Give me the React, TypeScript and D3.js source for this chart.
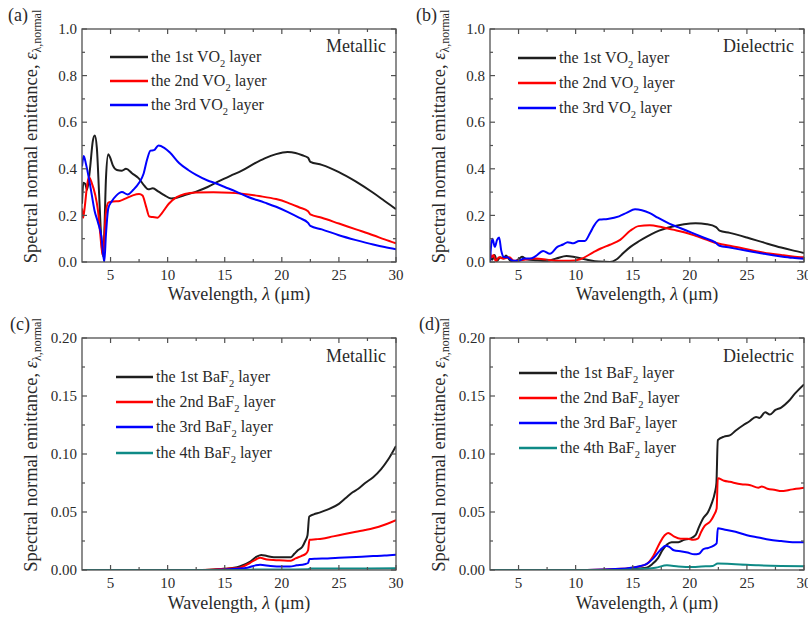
import React from "react";
import * as d3 from "d3";

type Pt = [number, number];

// ---------- Data ----------
const xTicks = [5, 10, 15, 20, 25, 30];
const xMinorTicks = [7.5, 12.5, 17.5, 22.5, 27.5];
const yTicksVO2 = [0, 0.2, 0.4, 0.6, 0.8, 1.0];
const yMinorVO2 = [0.1, 0.3, 0.5, 0.7, 0.9];
const yTicksBaF2 = [0, 0.05, 0.1, 0.15, 0.2];
const yMinorBaF2 = [0.025, 0.075, 0.125, 0.175];

const vo2Labels = ["the 1st VO", "the 2nd VO", "the 3rd VO"];
const baf2Labels = ["the 1st BaF", "the 2nd BaF", "the 3rd BaF", "the 4th BaF"];

const aBlack: Pt[] = [[2.5,0.25],[2.62,0.34],[2.78,0.335],[2.95,0.31],[3.2,0.40],[3.45,0.52],[3.62,0.543],[3.8,0.49],[4.0,0.29],[4.2,0.09],[4.33,0.025],[4.45,0.12],[4.6,0.36],[4.8,0.462],[4.95,0.45],[5.2,0.415],[5.55,0.395],[6.0,0.392],[6.35,0.40],[6.9,0.38],[7.45,0.36],[8.0,0.325],[8.3,0.312],[8.7,0.316],[9.2,0.302],[9.7,0.287],[10.3,0.273],[10.8,0.276],[11.5,0.287],[12.5,0.302],[13.5,0.322],[14.5,0.347],[15.5,0.37],[16.5,0.392],[17.5,0.42],[18.5,0.445],[19.5,0.463],[20.5,0.472],[21.2,0.468],[21.8,0.458],[22.3,0.447],[22.5,0.43],[23.5,0.417],[25,0.386],[26.5,0.345],[28,0.297],[29,0.262],[30,0.227]];
const aRed: Pt[] = [[2.5,0.23],[2.6,0.19],[2.75,0.24],[2.95,0.33],[3.1,0.365],[3.35,0.34],[3.65,0.29],[3.9,0.22],[4.1,0.12],[4.3,0.03],[4.42,0.07],[4.57,0.2],[4.8,0.255],[5.2,0.26],[5.8,0.262],[6.3,0.272],[6.9,0.285],[7.5,0.292],[7.8,0.285],[8.1,0.24],[8.4,0.195],[8.7,0.193],[9.1,0.19],[9.5,0.21],[10.1,0.25],[10.8,0.278],[11.5,0.292],[12.5,0.298],[14,0.299],[15.5,0.297],[16.5,0.293],[18,0.283],[19.5,0.27],[20.5,0.255],[21.5,0.235],[22.3,0.218],[22.5,0.204],[23.5,0.19],[25,0.165],[26.5,0.14],[28,0.115],[29,0.097],[30,0.08]];
const aBlue: Pt[] = [[2.5,0.41],[2.65,0.455],[2.85,0.42],[3.1,0.36],[3.35,0.29],[3.6,0.22],[3.9,0.17],[4.2,0.11],[4.45,0.0],[4.6,0.12],[4.8,0.23],[5.1,0.26],[5.5,0.285],[6.0,0.30],[6.5,0.29],[7.0,0.31],[7.5,0.34],[7.9,0.38],[8.2,0.44],[8.5,0.478],[8.8,0.48],[9.2,0.50],[9.7,0.49],[10.2,0.47],[11,0.425],[11.8,0.395],[12.5,0.374],[13.5,0.35],[14.2,0.338],[15,0.322],[16,0.302],[17,0.28],[18.5,0.255],[19.5,0.237],[20.5,0.215],[21.5,0.19],[22.3,0.168],[22.5,0.155],[23.5,0.14],[25,0.115],[26.5,0.094],[28,0.075],[29,0.064],[30,0.055]];

const bBlack: Pt[] = [[2.5,0.02],[2.7,0.01],[2.9,0.03],[3.1,0.005],[3.4,0.02],[3.7,0.015],[3.9,0.028],[4.2,0.01],[4.6,0.0],[5.0,0.012],[5.3,0.022],[5.7,0.012],[6.5,0.008],[7.5,0.005],[8.3,0.015],[9.2,0.026],[10,0.02],[11,0.01],[12,0.002],[13,0.0],[13.6,0.012],[14.2,0.04],[14.8,0.065],[15.5,0.088],[16.2,0.108],[17,0.128],[18.5,0.152],[19.5,0.162],[20.5,0.166],[21.5,0.162],[22.3,0.15],[22.6,0.135],[23.5,0.125],[25,0.105],[26.5,0.083],[28,0.062],[29,0.05],[30,0.039]];
const bRed: Pt[] = [[2.5,0.04],[2.65,0.02],[2.8,0.03],[3.0,0.005],[3.3,0.02],[3.6,0.015],[4.2,0.02],[4.6,0.005],[5.5,0.01],[6.5,0.015],[7.5,0.01],[8.5,0.005],[9.5,0.005],[10.4,0.012],[11.5,0.04],[12.2,0.058],[13,0.074],[13.9,0.095],[14.8,0.135],[15.5,0.154],[16.5,0.158],[17.5,0.15],[18.5,0.139],[19.5,0.128],[20.5,0.112],[21.5,0.095],[22.5,0.079],[23.5,0.07],[25,0.055],[26.5,0.04],[28,0.03],[29,0.024],[30,0.02]];
const bBlue: Pt[] = [[2.5,0.0],[2.58,0.06],[2.72,0.1],[2.92,0.065],[3.12,0.095],[3.3,0.105],[3.48,0.05],[3.75,0.02],[4.0,0.02],[4.5,0.005],[5.0,0.005],[5.5,0.015],[6.0,0.015],[6.5,0.025],[7.15,0.047],[7.75,0.035],[8.4,0.065],[8.9,0.075],[9.3,0.085],[9.8,0.08],[10.3,0.09],[10.8,0.09],[11.3,0.128],[11.6,0.155],[12.1,0.182],[12.8,0.185],[13.8,0.196],[14.5,0.212],[15.2,0.226],[15.8,0.222],[16.5,0.21],[17.2,0.19],[18.2,0.165],[19.2,0.145],[20.2,0.125],[21.3,0.103],[22.2,0.085],[22.6,0.07],[23.5,0.062],[25,0.048],[26.5,0.035],[28,0.024],[29,0.018],[30,0.014]];

const cBlack: Pt[] = [[2.5,0],[13,0],[14,0.0005],[15,0.001],[16.3,0.003],[17.2,0.007],[17.8,0.0115],[18.2,0.013],[18.7,0.012],[19.3,0.011],[20.3,0.011],[20.8,0.011],[21.1,0.014],[21.4,0.017],[21.8,0.02],[22.05,0.025],[22.25,0.03],[22.4,0.046],[22.8,0.048],[23.3,0.0495],[24,0.052],[25,0.057],[25.6,0.062],[26.2,0.067],[26.7,0.07],[27.3,0.075],[28,0.08],[28.7,0.087],[29.3,0.095],[30,0.107]];
const cRed: Pt[] = [[2.5,0],[13,0],[15,0.001],[16.3,0.002],[17.2,0.006],[17.8,0.0095],[18.1,0.0105],[18.7,0.009],[19.5,0.0085],[20.5,0.008],[20.8,0.008],[21.2,0.01],[21.7,0.012],[22.1,0.014],[22.3,0.017],[22.42,0.026],[23,0.0265],[23.5,0.027],[24.5,0.029],[25.5,0.031],[26.5,0.033],[27.3,0.0345],[28,0.036],[29,0.039],[30,0.043]];
const cBlue: Pt[] = [[2.5,0],[14,0],[16,0.001],[17,0.002],[17.7,0.004],[18.1,0.0045],[19,0.0035],[20,0.003],[20.7,0.003],[21.3,0.004],[22,0.005],[22.3,0.006],[22.42,0.0095],[23,0.0098],[24,0.01],[25,0.0105],[26,0.011],[27,0.0115],[28,0.012],[29,0.0125],[30,0.0132]];
const cTeal: Pt[] = [[2.5,0],[16,0],[18,0.0005],[20,0.0004],[22.3,0.0007],[22.45,0.0012],[25,0.0013],[30,0.0015]];

const dBlack: Pt[] = [[2.5,0],[12,0],[14,0.0005],[15,0.001],[16.2,0.002],[16.7,0.005],[17.2,0.01],[17.6,0.017],[18,0.022],[18.4,0.024],[19,0.024],[19.5,0.026],[20,0.027],[20.5,0.03],[20.8,0.037],[21.2,0.045],[21.6,0.05],[21.9,0.057],[22.2,0.067],[22.33,0.075],[22.45,0.112],[23,0.115],[23.5,0.116],[24,0.12],[24.7,0.125],[25.2,0.128],[25.8,0.132],[26.1,0.131],[26.6,0.136],[27,0.134],[27.5,0.138],[28,0.14],[28.6,0.145],[29.2,0.152],[30,0.16]];
const dRed: Pt[] = [[2.5,0],[11,0],[14,0.001],[15,0.002],[16.2,0.005],[16.8,0.012],[17.3,0.022],[17.8,0.03],[18.1,0.032],[18.6,0.029],[19.2,0.027],[19.8,0.027],[20.3,0.026],[20.7,0.027],[21,0.033],[21.3,0.038],[21.8,0.042],[22.1,0.047],[22.35,0.053],[22.45,0.079],[23,0.077],[23.5,0.076],[24.5,0.074],[25.3,0.073],[26,0.071],[26.3,0.072],[26.8,0.07],[27.5,0.069],[28,0.068],[28.7,0.069],[29.3,0.07],[30,0.071]];
const dBlue: Pt[] = [[2.5,0],[11,0],[14,0.001],[15.5,0.003],[16.2,0.005],[16.8,0.01],[17.4,0.017],[17.9,0.021],[18.2,0.02],[18.6,0.017],[19.3,0.016],[19.8,0.015],[20.4,0.0135],[20.8,0.014],[21.2,0.018],[21.6,0.019],[22.1,0.021],[22.35,0.023],[22.45,0.036],[23,0.035],[24,0.033],[25,0.03],[26,0.028],[27,0.026],[28,0.025],[29,0.024],[30,0.024]];
const dTeal: Pt[] = [[2.5,0],[14,0],[16,0.001],[17,0.002],[18,0.004],[19,0.003],[20.3,0.0025],[21,0.003],[22,0.0035],[22.45,0.0055],[24,0.005],[26,0.004],[28,0.0035],[30,0.0033]];

// ---------- Styling ----------
const FONT = '"Liberation Serif", "DejaVu Serif", serif';
const AX = "#505050";
const TXT = "#2a2a2a";
const COLORS = ["#1e1e1e", "#ff0000", "#0000ff", "#0f8a86"];

type PanelProps = {
  id: string;
  left: number; right: number; top: number; bottom: number;
  yTicks: number[]; yMinor: number[]; yFmt: string;
  series: Pt[][];
  labels: string[];
  sub: string;
  legX1: number; legX2: number; legRows: number[];
  tag: string; tagX: number; tagY: number;
  note: string; noteY: number;
  yTitleX: number; xTitleY: number;
};

const tStyle = { fontFamily: FONT };

function Panel(p: PanelProps) {
  const x = d3.scaleLinear().domain([2.5, 30]).range([p.left, p.right]);
  const yMax = p.yTicks[p.yTicks.length - 1];
  const y = d3.scaleLinear().domain([0, yMax]).range([p.bottom, p.top]);
  const line = d3.line<Pt>().x(d => x(d[0])).y(d => y(d[1])).curve(d3.curveMonotoneX);
  const fmt = d3.format(p.yFmt);
  const MAJ = 5, MIN = 3;
  const yMid = (p.top + p.bottom) / 2;
  const xMid = (p.left + p.right) / 2;
  return (
    <g>
      <defs>
        <clipPath id={"clip" + p.id}>
          <rect x={p.left} y={p.top - 2} width={p.right - p.left} height={p.bottom - p.top + 2} />
        </clipPath>
      </defs>
      <g clipPath={`url(#clip${p.id})`}>
        {p.series.map((s, i) => (
          <path key={i} d={line(s) || ""} fill="none" stroke={COLORS[i]} strokeWidth={2} strokeLinejoin="round" />
        ))}
      </g>
      <rect x={p.left} y={p.top} width={p.right - p.left} height={p.bottom - p.top} fill="none" stroke={AX} strokeWidth={1.3} />
      {xTicks.map(t => (
        <g key={"xt" + t}>
          <line x1={x(t)} x2={x(t)} y1={p.bottom} y2={p.bottom - MAJ} stroke={AX} strokeWidth={1.2} />
          <line x1={x(t)} x2={x(t)} y1={p.top} y2={p.top + MAJ} stroke={AX} strokeWidth={1.2} />
          <text style={tStyle} x={x(t)} y={p.bottom + 18} textAnchor="middle" fontSize={15} fill={TXT}>{t}</text>
        </g>
      ))}
      {xMinorTicks.map(t => (
        <g key={"xm" + t}>
          <line x1={x(t)} x2={x(t)} y1={p.bottom} y2={p.bottom - MIN} stroke={AX} strokeWidth={1.2} />
          <line x1={x(t)} x2={x(t)} y1={p.top} y2={p.top + MIN} stroke={AX} strokeWidth={1.2} />
        </g>
      ))}
      {p.yTicks.map(t => (
        <g key={"yt" + t}>
          <line x1={p.left} x2={p.left + MAJ} y1={y(t)} y2={y(t)} stroke={AX} strokeWidth={1.2} />
          <line x1={p.right} x2={p.right - MAJ} y1={y(t)} y2={y(t)} stroke={AX} strokeWidth={1.2} />
          <text style={tStyle} x={p.left - 5} y={y(t)} dy="0.35em" textAnchor="end" fontSize={15} fill={TXT}>{fmt(t)}</text>
        </g>
      ))}
      {p.yMinor.map(t => (
        <g key={"ym" + t}>
          <line x1={p.left} x2={p.left + MIN} y1={y(t)} y2={y(t)} stroke={AX} strokeWidth={1.2} />
          <line x1={p.right} x2={p.right - MIN} y1={y(t)} y2={y(t)} stroke={AX} strokeWidth={1.2} />
        </g>
      ))}
      {p.labels.map((lab, i) => (
        <g key={"lg" + i}>
          <line x1={p.legX1} x2={p.legX2} y1={p.legRows[i]} y2={p.legRows[i]} stroke={COLORS[i]} strokeWidth={2.5} />
          <text style={tStyle} x={p.legX2 + 3} y={p.legRows[i]} dy="0.33em" fontSize={16} fill={TXT}>
            {lab}<tspan dy={5} fontSize={10.5}>{p.sub}</tspan><tspan dy={-5}> layer</tspan>
          </text>
        </g>
      ))}
      <text style={tStyle} x={p.right - 10} y={p.noteY} textAnchor="end" fontSize={18} fill={TXT}>{p.note}</text>
      <text style={tStyle} x={p.tagX} y={p.tagY} fontSize={18} fill={TXT}>{p.tag}</text>
      <text style={tStyle} x={xMid} y={p.xTitleY} textAnchor="middle" fontSize={18} fill={TXT}>
        Wavelength, <tspan fontStyle="italic">λ</tspan> (μm)
      </text>
      <text style={tStyle} transform={`translate(${p.yTitleX},${yMid - 9}) rotate(-90)`} textAnchor="middle" fontSize={18.5} fill={TXT}>
        Spectral normal emittance, <tspan fontStyle="italic">ε</tspan><tspan dy={4} fontSize={12}>λ,normal</tspan>
      </text>
    </g>
  );
}

export default function App() {
  return (
    <svg width={808} height={619} style={{ position: "absolute", left: 0, top: 0, background: "#fff", fontFamily: FONT }}>
      <rect width={808} height={619} fill="#fff" />
      <Panel id="a" left={82} right={396} top={29} bottom={262}
        yTicks={yTicksVO2} yMinor={yMinorVO2} yFmt=".1f"
        series={[aBlack, aRed, aBlue]} labels={vo2Labels} sub="2"
        legX1={110} legX2={148} legRows={[57, 81, 105]}
        tag="(a)" tagX={8} tagY={21} note="Metallic" noteY={52}
        yTitleX={37} xTitleY={300} />
      <Panel id="b" left={490} right={804} top={29} bottom={262}
        yTicks={yTicksVO2} yMinor={yMinorVO2} yFmt=".1f"
        series={[bBlack, bRed, bBlue]} labels={vo2Labels} sub="2"
        legX1={518} legX2={556} legRows={[58, 83, 108]}
        tag="(b)" tagX={416} tagY={21} note="Dielectric" noteY={52}
        yTitleX={445} xTitleY={300} />
      <Panel id="c" left={82} right={396} top={338} bottom={570}
        yTicks={yTicksBaF2} yMinor={yMinorBaF2} yFmt=".2f"
        series={[cBlack, cRed, cBlue, cTeal]} labels={baf2Labels} sub="2"
        legX1={116} legX2={153} legRows={[377, 402, 427, 453]}
        tag="(c)" tagX={10} tagY={330} note="Metallic" noteY={362}
        yTitleX={37} xTitleY={609} />
      <Panel id="d" left={490} right={804} top={338} bottom={570}
        yTicks={yTicksBaF2} yMinor={yMinorBaF2} yFmt=".2f"
        series={[dBlack, dRed, dBlue, dTeal]} labels={baf2Labels} sub="2"
        legX1={519} legX2={557} legRows={[373, 398, 423, 448]}
        tag="(d)" tagX={419} tagY={330} note="Dielectric" noteY={362}
        yTitleX={445} xTitleY={609} />
    </svg>
  );
}
